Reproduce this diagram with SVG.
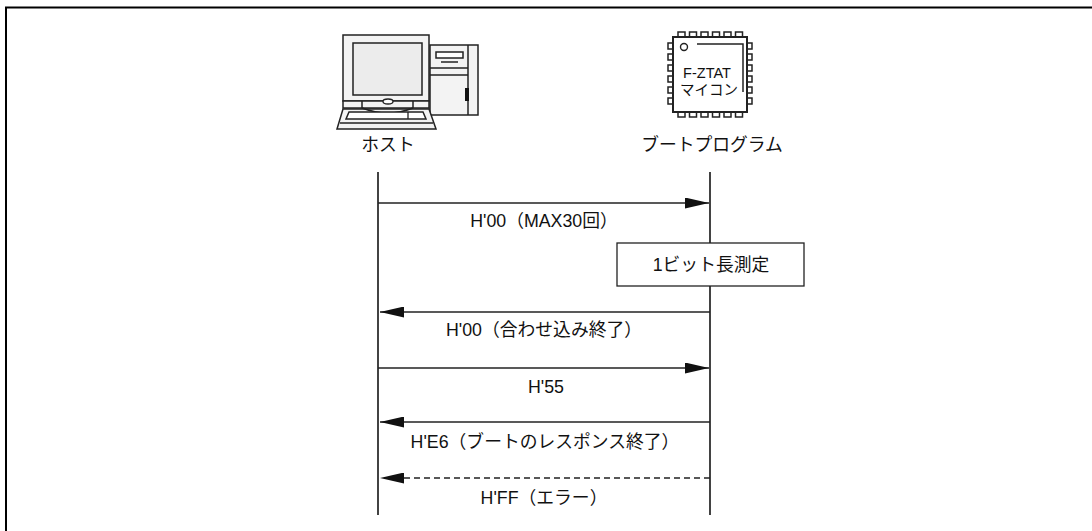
<svg xmlns="http://www.w3.org/2000/svg" width="1092" height="531" viewBox="0 0 1092 531">
  <style>
    .txt { font-family: "Liberation Sans", "Noto Sans CJK JP", sans-serif; font-size: 17.8px; fill: #111; text-anchor: middle; }
    .chiptxt { font-family: "Liberation Sans", "Noto Sans CJK JP", sans-serif; font-size: 14.5px; fill: #111; text-anchor: middle; }
    .life { stroke: #222; stroke-width: 1.7; fill: none; }
    .msg { stroke: #222; stroke-width: 1.3; fill: none; }
    .dash { stroke-dasharray: 6 4; }
    .ic { stroke: #222; stroke-width: 1.5; fill: #f3f3f3; }
    .icw { stroke: #222; stroke-width: 1.5; fill: #fff; }
    .pin { stroke: #222; stroke-width: 1.5; fill: #fff; }
  </style>
  <defs>
    <marker id="ah" viewBox="0 0 24 11" refX="24" refY="5.5" markerWidth="24" markerHeight="11" markerUnits="userSpaceOnUse" orient="auto">
      <path d="M0 0 L24 5.5 L0 11 Z" fill="#111"/>
    </marker>
  </defs>

  <rect width="1092" height="531" fill="#fff"/>
  <!-- frame -->
  <path d="M6 531 V7.5 H1092" fill="none" stroke="#000" stroke-width="2"/>

  <!-- host PC -->
  <g id="host">
    <!-- tower -->
    <rect class="ic" x="430" y="45" width="48" height="70"/>
    <line x1="468" y1="45" x2="468" y2="115" stroke="#222" stroke-width="1.5"/>
    <line x1="430" y1="68" x2="468" y2="68" stroke="#222" stroke-width="1.5"/>
    <line x1="430" y1="75" x2="468" y2="75" stroke="#222" stroke-width="1.5"/>
    <rect class="icw" x="436" y="52" width="27" height="6"/>
    <line x1="441" y1="62" x2="458" y2="62" stroke="#222" stroke-width="1.5"/>
    <rect x="465" y="88" width="4" height="13" fill="#111"/>
    <!-- monitor -->
    <rect class="ic" x="343" y="35" width="86" height="66"/>
    <rect x="353" y="43" width="69" height="52" fill="#ececec" stroke="#222" stroke-width="1.5"/>
    <rect class="ic" x="343" y="101" width="86" height="7"/>
    <line x1="362" y1="101" x2="362" y2="108" stroke="#222" stroke-width="1.5"/>
    <line x1="413" y1="101" x2="413" y2="108" stroke="#222" stroke-width="1.5"/>
    <ellipse cx="388" cy="101.5" rx="5" ry="2.5" fill="#fff" stroke="#222" stroke-width="1.3"/>
    <!-- keyboard -->
    <polygon class="ic" points="343,109 429,109 436,129 337,129"/>
    <path d="M362 108 Q388 118 413 108" fill="none" stroke="#222" stroke-width="1.5"/>
    <polygon class="icw" points="349,112 423,112 426,119 346,119"/>
    <line x1="408" y1="112" x2="408" y2="119" stroke="#222" stroke-width="1.3"/>
    <line x1="340" y1="123" x2="433" y2="123" stroke="#222" stroke-width="1.3"/>
    <text class="txt" x="388" y="151">ホスト</text>
  </g>

  <!-- boot program chip -->
  <g id="boot">
    <g class="pin">
      <rect x="678" y="32" width="7" height="5"/>
      <rect x="689.5" y="32" width="7" height="5"/>
      <rect x="701" y="32" width="7" height="5"/>
      <rect x="712.5" y="32" width="7" height="5"/>
      <rect x="724" y="32" width="7" height="5"/>
      <rect x="735.5" y="32" width="7" height="5"/>
      <rect x="678" y="112" width="7" height="5"/>
      <rect x="689.5" y="112" width="7" height="5"/>
      <rect x="701" y="112" width="7" height="5"/>
      <rect x="712.5" y="112" width="7" height="5"/>
      <rect x="724" y="112" width="7" height="5"/>
      <rect x="735.5" y="112" width="7" height="5"/>
      <rect x="668" y="43" width="5" height="6"/>
      <rect x="668" y="54" width="5" height="6"/>
      <rect x="668" y="65" width="5" height="6"/>
      <rect x="668" y="76" width="5" height="6"/>
      <rect x="668" y="87" width="5" height="6"/>
      <rect x="668" y="98" width="5" height="6"/>
      <rect x="747" y="43" width="5" height="6"/>
      <rect x="747" y="54" width="5" height="6"/>
      <rect x="747" y="65" width="5" height="6"/>
      <rect x="747" y="76" width="5" height="6"/>
      <rect x="747" y="87" width="5" height="6"/>
      <rect x="747" y="98" width="5" height="6"/>
    </g>
    <rect x="673" y="37" width="74" height="75" fill="#fff" stroke="#222" stroke-width="2"/>
    <circle cx="684" cy="47" r="3.5" fill="#fff" stroke="#222" stroke-width="1.4"/>
    <path d="M697 44 H743 V92" fill="none" stroke="#222" stroke-width="1.5"/>
    <text class="chiptxt" x="707" y="78">F-ZTAT</text>
    <text class="chiptxt" x="709" y="95">マイコン</text>
    <text class="txt" x="712" y="151">ブートプログラム</text>
  </g>

  <!-- bit length measurement -->
  <g id="measure">
    <rect x="617" y="243" width="187" height="43" fill="#fff" stroke="#222" stroke-width="1.3"/>
    <text class="txt" x="711" y="271">1ビット長測定</text>
  </g>

  <!-- lifelines and messages -->
  <g id="connectors">
    <line class="life" x1="378" y1="172" x2="378" y2="515"/>
    <line class="life" x1="710" y1="172" x2="710" y2="243"/>
    <line class="life" x1="710" y1="286" x2="710" y2="515"/>

    <line class="msg" x1="378" y1="203" x2="709" y2="203" marker-end="url(#ah)"/>
    <line class="msg" x1="710" y1="312" x2="380" y2="312" marker-end="url(#ah)"/>
    <line class="msg" x1="378" y1="368" x2="709" y2="368" marker-end="url(#ah)"/>
    <line class="msg" x1="710" y1="422" x2="380" y2="422" marker-end="url(#ah)"/>
    <line class="msg dash" x1="710" y1="478" x2="380" y2="478" marker-end="url(#ah)"/>
  </g>

  <g id="labels">
    <text class="txt" x="544" y="227">H'00（MAX30回）</text>
    <text class="txt" x="544" y="336">H'00（合わせ込み終了）</text>
    <text class="txt" x="546" y="393">H'55</text>
    <text class="txt" x="545" y="448">H'E6（ブートのレスポンス終了）</text>
    <text class="txt" x="544" y="504">H'FF（エラー）</text>
  </g>
</svg>
